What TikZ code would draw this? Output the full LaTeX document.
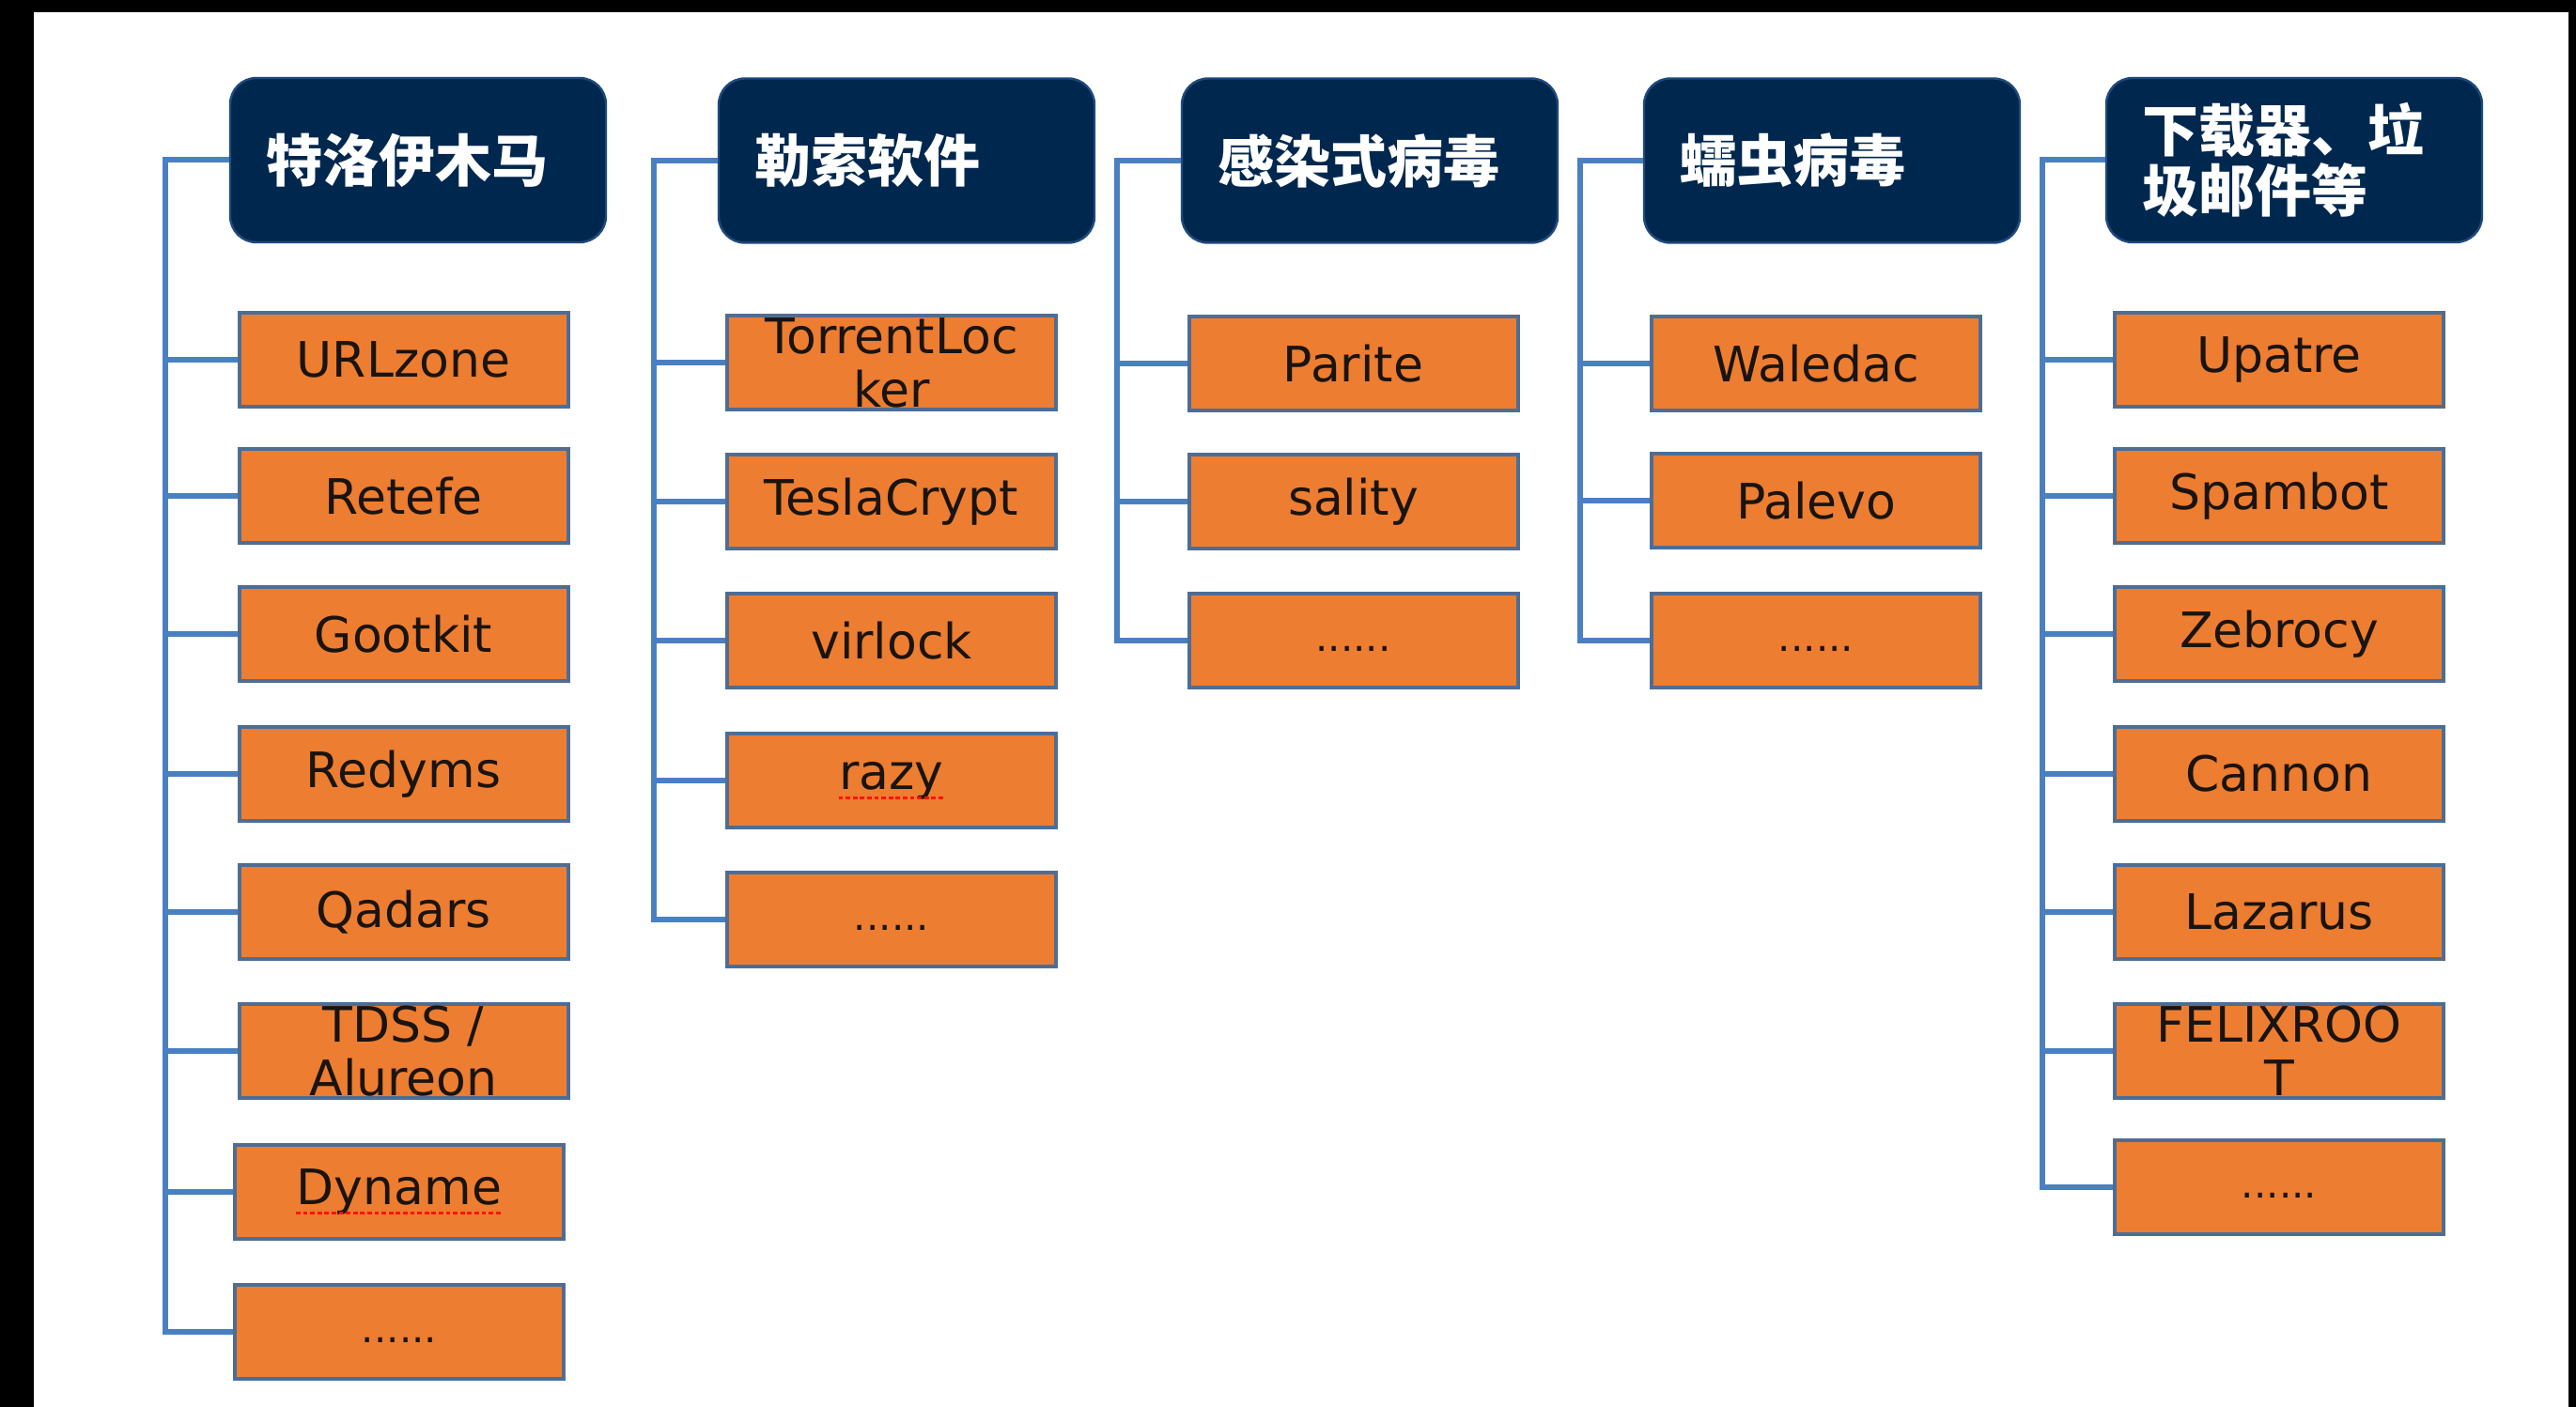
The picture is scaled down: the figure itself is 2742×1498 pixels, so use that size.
\documentclass[tikz,border=0pt]{standalone}
\usepackage{fontspec}
\setmainfont{DejaVu Sans}
\newfontfamily\cjk{Noto Sans CJK SC}
\definecolor{navy}{HTML}{00284F}
\definecolor{headline}{HTML}{1F4A7E}
\definecolor{boxorange}{HTML}{ED7D31}
\definecolor{boxline}{HTML}{4E6D95}
\definecolor{boxtext}{HTML}{1A1410}
\definecolor{connblue}{HTML}{4A80C2}
% small dots that sit on the label baseline
\newcommand\moredots{{\fontsize{10.5pt}{14.25pt}\selectfont\strut......}}
\begin{document}
\begin{tikzpicture}[x=0.25pt,y=-0.25pt,
  head/.style={rectangle, rounded corners=7pt, fill=navy, draw=headline,
    line width=0.6pt, minimum width=100pt, minimum height=43.75pt,
    text width=81pt, inner xsep=9.5pt, inner ysep=0pt, align=left,
    text=white, font=\cjk\bfseries\fontsize{15pt}{16pt}\selectfont},
  item/.style={rectangle, fill=boxorange, draw=boxline, line width=1pt,
    minimum width=87.5pt, minimum height=25pt, inner sep=0pt, align=center,
    text=boxtext, font=\fontsize{13pt}{14.25pt}\selectfont},
  itemtext/.style={inner sep=0pt, text=boxtext,
    font=\fontsize{13pt}{14.25pt}\selectfont},
  conn/.style={draw=connblue, line width=1.5pt},
  spell/.style={draw=red!85!orange, line width=0.7pt, dash pattern=on 1.2pt off 0.7pt}]

% frame and page
\fill[black] (0,0) rectangle (2742,1498);
\fill[white] (36,13) rectangle (2734,1498);
\useasboundingbox (0,0) rectangle (2742,1498);

% category headers
\node[head] (h1) at (445,170.5)  {特洛伊木马};
\node[head] (h2) at (965,171)    {勒索软件};
\node[head] (h3) at (1458,171)   {感染式病毒};
\node[head] (h4) at (1950,171)   {蠕虫病毒};
\node[head] (h5) at (2442,170.5) {下载器、垃\\圾邮件等};

% trunk positions
\coordinate (t1) at (176,0);
\coordinate (t2) at (696,0);
\coordinate (t3) at (1189,0);
\coordinate (t4) at (1682,0);
\coordinate (t5) at (2174,0);

% column 1
\node[item] (a1) at (429.5,383)  {URLzone};
\node[item] (a2) at (429.5,528)  {Retefe};
\node[item] (a3) at (429.5,675)  {Gootkit};
\node[item] (a4) at (429.5,824)  {Redyms};
\node[item] (a5) at (429.5,971)  {Qadars};
\node[item] (a6) at (429.5,1119) {TDSS /\\Alureon};
\node[item] (a7) at (425,1269)   {};
\node[itemtext] (a7t) at (a7) {Dyname};
\node[item] (a8) at (425,1418)   {\moredots};

% column 2
\node[item] (b1) at (949,386) {TorrentLoc\\ker};
\node[item] (b2) at (949,534) {TeslaCrypt};
\node[item] (b3) at (949,682) {virlock};
\node[item] (b4) at (949,831) {};
\node[itemtext] (b4t) at (b4) {razy};
\node[item] (b5) at (949,979) {\moredots};

% column 3
\node[item] (c1) at (1440.5,387) {Parite};
\node[item] (c2) at (1440.5,534) {sality};
\node[item] (c3) at (1440.5,682) {\moredots};

% column 4
\node[item] (d1) at (1933,387) {Waledac};
\node[item] (d2) at (1933,533) {Palevo};
\node[item] (d3) at (1933,682) {\moredots};

% column 5
\node[item] (e1) at (2426,383)  {Upatre};
\node[item] (e2) at (2426,528)  {Spambot};
\node[item] (e3) at (2426,675)  {Zebrocy};
\node[item] (e4) at (2426,824)  {Cannon};
\node[item] (e5) at (2426,971)  {Lazarus};
\node[item] (e6) at (2426,1119) {FELIXROO\\T};
\node[item] (e7) at (2426,1264) {\moredots};

% spell-check marks
\draw[spell] ([yshift=0.6pt]a7t.south west) -- ([yshift=0.6pt]a7t.south east);
\draw[spell] ([yshift=0.6pt]b4t.south west) -- ([yshift=0.6pt]b4t.south east);

% elbow connectors: header -> trunk -> item
\foreach \c in {a1,a2,a3,a4,a5,a6,a7,a8}
  \draw[conn] (h1.west) -- (h1.west -| t1) |- (\c.west);
\foreach \c in {b1,b2,b3,b4,b5}
  \draw[conn] (h2.west) -- (h2.west -| t2) |- (\c.west);
\foreach \c in {c1,c2,c3}
  \draw[conn] (h3.west) -- (h3.west -| t3) |- (\c.west);
\foreach \c in {d1,d2,d3}
  \draw[conn] (h4.west) -- (h4.west -| t4) |- (\c.west);
\foreach \c in {e1,e2,e3,e4,e5,e6,e7}
  \draw[conn] (h5.west) -- (h5.west -| t5) |- (\c.west);
\end{tikzpicture}
\end{document}
